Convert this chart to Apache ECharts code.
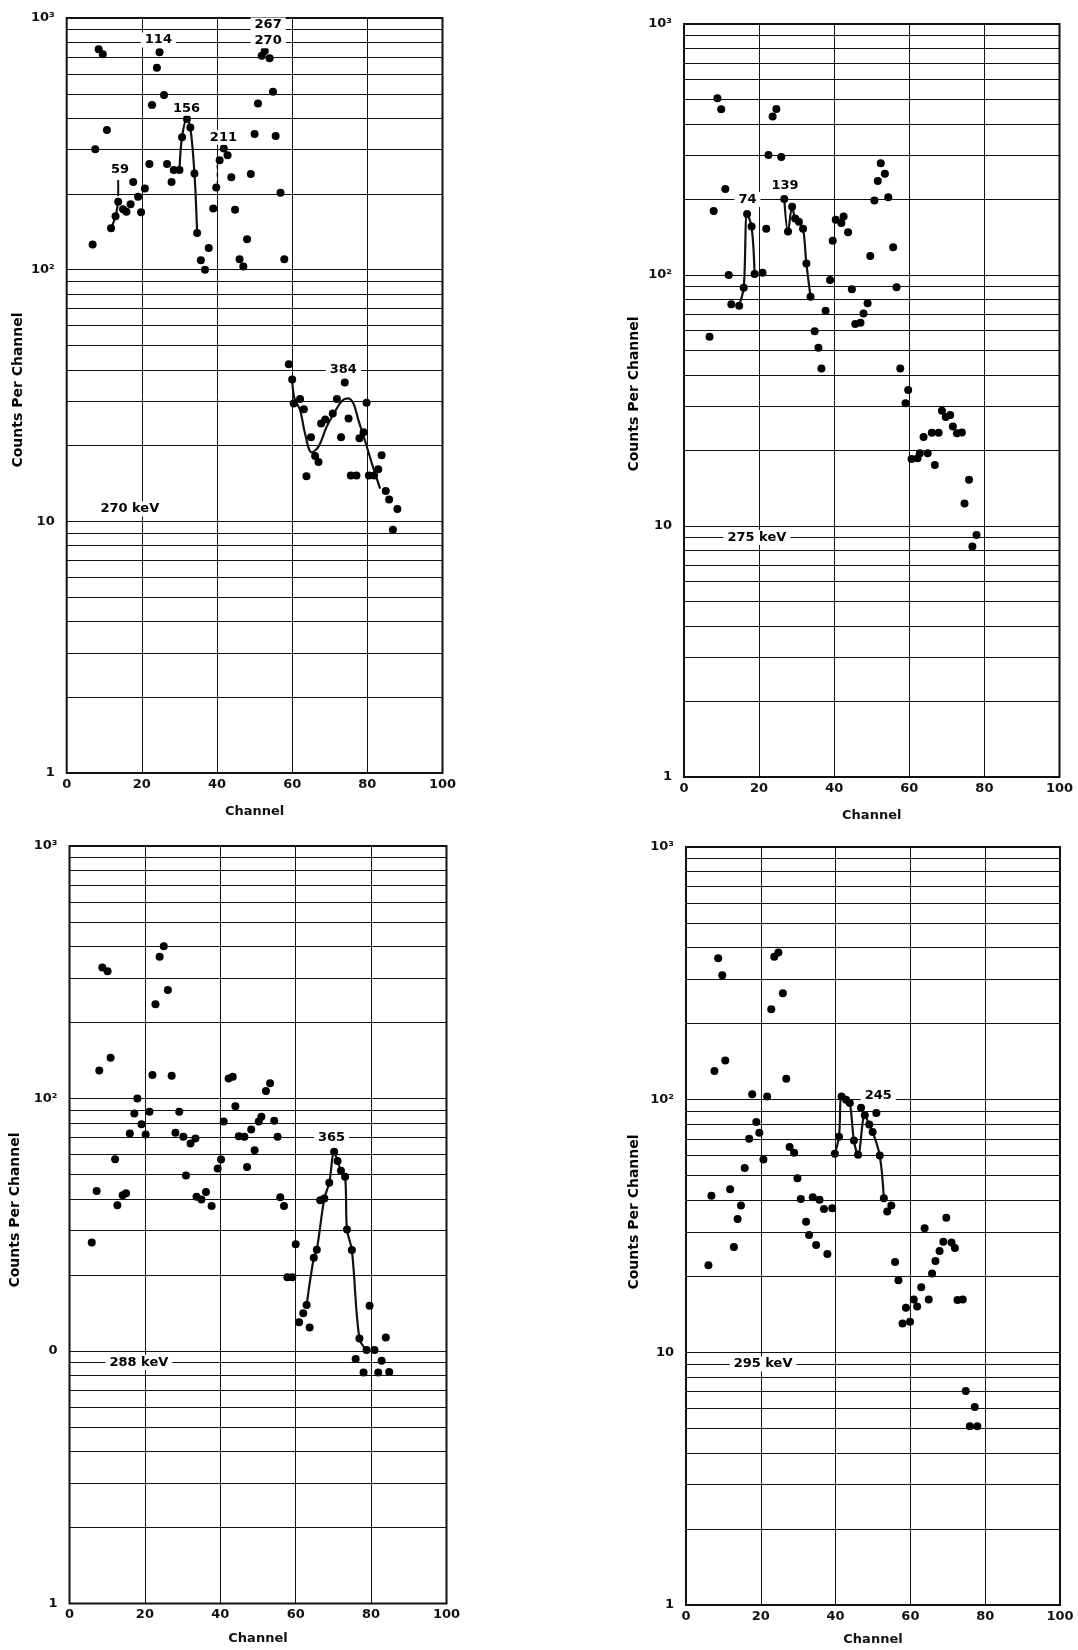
<!DOCTYPE html>
<html><head><meta charset="utf-8">
<script src="https://cdn.jsdelivr.net/npm/echarts@6/dist/echarts.min.js"></script>
<style>html,body{margin:0;padding:0;background:#fff;}#c{width:1078px;height:1650px;}</style>
</head><body><div id="c"></div>
<script>
// ---------- tick labels ----------
const xTickLabels = ['0', '20', '40', '60', '80', '100'];
const yTickLabelsA = ['1', '10', '10\u00B2', '10\u00B3'];
const yTickLabelsC = ['1', '0', '10\u00B2', '10\u00B3'];
const minorGridValues = [2,3,4,5,6,7,8,9,10,20,30,40,50,60,70,80,90,100,200,300,400,500,600,700,800,900];

// ---------- panel 1 : 270 keV ----------
const p1Points = [[8.5,752],[9.6,718],[24.7,731],[24.0,635],[25.9,494],[22.7,451],[10.7,359],[7.6,301],[32.0,397],[32.9,367],[30.7,336],[22.0,263],[26.7,263],[28.5,249],[30.0,249],[27.9,223],[34.0,241],[34.7,140],[37.8,122],[35.7,109],[36.8,100],[6.9,126],[11.8,146],[13.0,163],[13.7,186],[15.0,174],[15.9,170],[17.0,182],[17.7,223],[19.0,195],[19.8,169],[20.8,210],[39.8,212],[39.0,175],[40.7,272],[41.8,303],[42.8,285],[43.8,233],[44.8,173],[48.0,132],[46.0,110],[47.0,103],[49.0,240],[50.0,346],[50.9,457],[51.9,708],[52.7,740],[54.0,692],[54.9,509],[55.6,340],[56.9,202],[57.9,110],
  [59.1,42.1],[60.0,36.6],[60.4,29.4],[62.1,30.6],[63.1,27.9],[65.0,21.6],[63.8,15.1],[66.1,18.2],[67.0,17.2],[67.7,24.5],[68.8,25.4],[70.8,26.8],[71.9,30.6],[73.0,21.6],[74.0,35.6],[75.0,25.6],[75.6,15.2],[77.1,15.2],[77.9,21.4],[79.0,22.6],[79.8,29.6],[80.4,15.2],[81.8,15.2],[82.9,16.1],[83.8,18.3],[84.9,13.2],[85.8,12.2],[88.0,11.2],[86.8,9.25]];
const p1Curve59 = [[11.8,146],[13.0,163],[13.7,186]];
const p1Curve156 = [[30.0,249],[30.7,336],[32.0,397],[32.9,367],[34.0,241],[34.7,140]];
const p1Curve384 = [[60.0,36.6],[60.6,30.8],[62.1,27.7],[63.4,22.4],[65.2,18.8],[67.0,19.8],[69.2,23.8],[71.4,27.3],[73.2,30.1],[74.8,30.8],[76.3,29.4],[77.6,25.3],[79.3,21.1],[81.2,17.0],[83.4,13.5]];
const p1Leader59 = [[13.7,227],[13.7,196]];
const p1Leader211 = [[40.1,281],[40.1,221]];
const p1Labels = [[24.4,818,'114'],[53.6,938,'267'],[53.6,813,'270'],[31.9,438,'156'],[41.7,336,'211'],[14.2,249,'59'],[73.6,39.9,'384'],[16.8,11.2,'270 keV']];

// ---------- panel 2 : 275 keV ----------
const p2Points = [[8.9,506],[9.9,457],[24.6,458],[23.6,428],[22.5,301],[25.9,295],[11.0,220],[7.9,180],[26.7,201],[28.8,187],[27.7,149],[29.6,168],[30.6,163],[31.7,153],[32.6,111],[33.7,82],[16.8,175],[18.0,156],[15.9,89],[18.8,101],[20.9,102],[11.9,100],[12.6,76.4],[14.7,75.5],[21.9,153],[39.6,137],[40.4,166],[41.9,161],[42.5,171],[43.7,148],[38.9,95.5],[44.7,87.7],[49.6,119],[50.7,198],[51.6,237],[52.4,279],[53.5,253],[54.4,204],[55.7,129],[56.6,89.3],
  [6.8,56.8],[37.7,72.1],[34.8,59.7],[35.8,51.3],[36.6,42.4],[48.9,77.1],[47.8,70.3],[45.6,63.8],[47.0,64.5],[57.6,42.4],[59.7,34.8],[59.0,30.8],[68.7,28.8],[69.7,27.2],[70.9,27.7],[71.6,24.9],[72.7,23.4],[74.0,23.6],[63.8,22.6],[66.0,23.5],[67.8,23.5],[60.6,18.5],[62.2,18.6],[62.8,19.5],[64.9,19.5],[66.8,17.5],[75.9,15.3],[74.7,12.3],[77.9,9.2],[76.8,8.28]];
const p2Curve74 = [[14.7,76],[15.9,89],[16.8,175],[18.0,156],[18.8,101]];
const p2Curve139 = [[26.7,201],[27.7,149],[28.8,187],[29.6,168],[30.6,163],[31.7,153],[32.6,111],[33.7,82]];
const p2Labels = [[16.9,200,'74'],[26.9,226,'139'],[19.4,9.0,'275 keV']];

// ---------- panel 3 : 288 keV ----------
const p3Points = [[25.0,401],[23.9,364],[8.7,330],[10.1,319],[26.1,269],[22.8,236],[10.9,145],[7.9,129],[22.0,124],[27.1,123],[42.2,120],[43.3,122],[53.2,115],[52.1,107],[18.0,100],[17.2,87.3],[21.2,88.6],[29.1,88.6],[19.1,79.1],[16.0,72.6],[20.2,72],[28.1,73.2],[30.2,70.5],[32.1,66.4],[33.4,69.5],[44.0,93.2],[40.9,81.1],[44.9,70.9],[46.4,70.5],[48.2,75.4],[50.2,81.1],[50.9,84.6],[54.3,81.6],[55.2,70.5],[49.1,62.4],[47.1,53.6],[40.2,57.3],[39.3,52.8],[12.1,57.5],[30.9,49.5],[7.2,43],[14.1,41.4],[15.0,42.1],[33.7,40.8],[36.2,42.6],[35.0,39.8],[37.7,37.5],[55.9,40.6],[56.9,37.5],[12.7,37.8],[5.9,26.9],
  [70.2,61.5],[71.1,56.6],[72.0,51.8],[73.1,49],[68.9,46.4],[67.6,40.2],[66.5,39.5],[60.0,26.5],[57.8,19.6],[59.1,19.6],[65.6,25.2],[64.8,23.4],[62.9,15.2],[62.0,14.1],[60.9,13.0],[63.7,12.4],[73.6,30.3],[74.9,25.1],[79.6,15.1],[76.9,11.2],[78.8,10.1],[80.9,10.1],[83.9,11.3],[75.9,9.3],[82.8,9.15],[78.0,8.22],[81.9,8.22],[84.8,8.25]];
const p3Curve365 = [[62.9,15.2],[64.8,23.4],[65.6,25.2],[67.6,40.2],[68.9,46.4],[70.2,61.5],[71.1,56.6],[72.0,51.8],[73.1,49],[73.6,30.3],[74.9,25.1],[76.9,11.2],[78.8,10.1]];
const p3Labels = [[69.5,70,'365'],[18.4,9.0,'288 keV']];

// ---------- panel 4 : 295 keV ----------
const p4Points = [[24.7,382],[23.6,368],[8.6,363],[9.7,311],[25.9,264],[22.8,228],[10.5,143],[7.6,130],[26.8,121],[17.7,105],[21.7,103],[41.6,103],[42.8,100],[43.8,97],[46.8,93],[47.8,86.7],[50.9,88.5],[49.0,79.8],[49.9,74.5],[18.8,81.5],[19.6,74],[16.9,70],[40.9,71.4],[44.9,69],[27.7,64.9],[28.9,61.6],[39.8,61.1],[46.0,60.5],[51.8,60.1],[20.7,58],[15.7,53.7],[29.8,48.9],[11.8,44.2],[6.8,41.7],[30.7,40.4],[33.9,41.1],[35.7,40.2],[52.9,40.7],
  [14.7,38.1],[13.8,33.7],[12.8,26.1],[6.0,22.1],[36.9,36.9],[39.1,37.2],[32.1,32.9],[32.9,29.1],[34.8,26.6],[37.8,24.5],[53.8,36.1],[54.9,38.1],[63.8,31],[69.6,34.1],[68.8,27.4],[71.0,27.2],[71.9,25.9],[67.8,25.2],[66.7,23.0],[65.8,20.5],[55.9,22.8],[56.8,19.3],[62.9,18.1],[60.9,16.2],[64.9,16.2],[61.8,15.2],[58.8,15.0],[57.9,13.0],[59.9,13.2],[72.6,16.1],[74.0,16.2],[74.8,7.03],[77.2,6.08],[75.9,5.1],[77.9,5.1]];
const p4Curve245 = [[39.8,61.1],[40.9,71.4],[41.6,103],[42.8,100],[43.8,97],[44.9,69],[46.0,60.5],[47.8,86.7],[49.0,79.8],[49.9,74.5],[51.8,60.1],[52.9,40.7]];
const p4Labels = [[51.4,104,'245'],[20.6,9.0,'295 keV']];

// ---------- build ----------
const FONT = 'DejaVu Sans';
const INK = '#111';
const panels = [
  {grid:{left:66.7, top:18, width:375.8, height:755}, nameGap:32, points:p1Points, curves:[p1Curve59,p1Curve156,p1Curve384], leaders:[p1Leader59], dashed:[p1Leader211], labels:p1Labels, yLabels:yTickLabelsA, yName:[18,390]},
  {grid:{left:684, top:24, width:375.5, height:753}, nameGap:32, points:p2Points, curves:[p2Curve74,p2Curve139], leaders:[], dashed:[], labels:p2Labels, yLabels:yTickLabelsA, yName:[634,394]},
  {grid:{left:69.5, top:846, width:377, height:757.5}, nameGap:29, points:p3Points, curves:[p3Curve365], leaders:[], dashed:[], labels:p3Labels, yLabels:yTickLabelsC, yName:[15,1210]},
  {grid:{left:686, top:847, width:374, height:758}, nameGap:28, points:p4Points, curves:[p4Curve245], leaders:[], dashed:[], labels:p4Labels, yLabels:yTickLabelsA, yName:[634,1212]}
];

const grids = [], xAxes = [], yAxes = [], series = [], graphics = [];
panels.forEach((p, i) => {
  grids.push(Object.assign({show:true, borderColor:INK, borderWidth:2, containLabel:false}, p.grid));
  xAxes.push({type:'value', gridIndex:i, min:0, max:100, interval:20,
    axisLine:{show:false}, axisTick:{show:false},
    splitLine:{show:true, lineStyle:{color:INK, width:1}},
    axisLabel:{margin:5, fontFamily:FONT, fontSize:13, fontWeight:'bold', color:INK,
      formatter:v => xTickLabels[Math.round(v/20)]},
    name:'Channel', nameLocation:'middle', nameGap:p.nameGap,
    nameTextStyle:{fontFamily:FONT, fontSize:13, fontWeight:'bold', color:INK}});
  const yl = p.yLabels;
  yAxes.push({type:'log', logBase:10, gridIndex:i, min:1, max:1000,
    axisLine:{show:false}, axisTick:{show:false}, splitLine:{show:false},
    axisLabel:{margin:12, fontFamily:FONT, fontSize:13, fontWeight:'bold', color:INK,
      formatter:v => yl[Math.round(Math.log10(v))]}});
  series.push({type:'scatter', xAxisIndex:i, yAxisIndex:i, data:[], z:1, silent:true,
    markLine:{silent:true, symbol:['none','none'], label:{show:false}, animation:false,
      lineStyle:{color:INK, width:1, type:'solid', opacity:1},
      data: minorGridValues.map(v => ({yAxis:v}))}});
  p.curves.forEach(c => series.push({type:'line', xAxisIndex:i, yAxisIndex:i, data:c, showSymbol:false, smooth:0.35, z:3,
    lineStyle:{color:INK, width:2.2, opacity:1}}));
  p.leaders.forEach(c => series.push({type:'line', xAxisIndex:i, yAxisIndex:i, data:c, showSymbol:false, z:3,
    lineStyle:{color:INK, width:2, opacity:1}}));
  p.dashed.forEach(c => series.push({type:'line', xAxisIndex:i, yAxisIndex:i, data:c, showSymbol:false, z:3,
    lineStyle:{color:INK, width:1.5, type:[4,4], opacity:1}}));
  series.push({type:'scatter', xAxisIndex:i, yAxisIndex:i, data:p.points, symbolSize:8, z:4,
    itemStyle:{color:'#000', opacity:1}});
  series.push({type:'scatter', xAxisIndex:i, yAxisIndex:i, data:p.labels, symbolSize:1, z:5,
    itemStyle:{color:'#fff', opacity:1},
    label:{show:true, position:'inside', formatter:q => q.data[2], fontFamily:FONT, fontSize:13, fontWeight:'bold', color:'#000',
      backgroundColor:'#fff', padding:[1,4]}});
  graphics.push({type:'text', x:p.yName[0], y:p.yName[1], rotation:Math.PI/2,
    style:{text:'Counts Per Channel', font:'bold 14px "DejaVu Sans"', fill:'#000', textAlign:'center', textVerticalAlign:'middle'}});
});

const chart = echarts.init(document.getElementById('c'), null, {renderer:'canvas'});
chart.setOption({animation:false, backgroundColor:'#fff', textStyle:{fontFamily:FONT},
  grid:grids, xAxis:xAxes, yAxis:yAxes, series:series, graphic:graphics});
</script></body></html>
